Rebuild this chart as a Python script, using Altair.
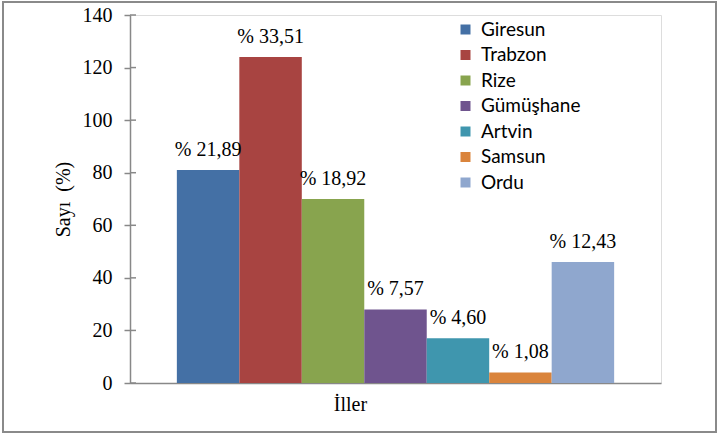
import altair as alt
import pandas as pd

cities = ["Giresun", "Trabzon", "Rize", "Gümüşhane", "Artvin", "Samsun", "Ordu"]
values = [81, 124, 70, 28, 17, 4, 46]
labels = ["% 21,89", "% 33,51", "% 18,92", "% 7,57", "% 4,60", "% 1,08", "% 12,43"]
colors = ["#4470A5", "#A84441", "#88A44E", "#6F548E", "#3F96AE", "#DA843C", "#8FA7CE"]
y_ticks = [0, 20, 40, 60, 80, 100, 120, 140]

SERIF = "Liberation Serif"

df = pd.DataFrame({"city": cities, "value": values, "label": labels})
ticks_df = pd.DataFrame({"t": y_ticks})

x = alt.X("city:N", sort=cities,
          scale=alt.Scale(paddingInner=0, paddingOuter=0.75),
          axis=alt.Axis(title="İller", labels=False, ticks=False,
                        titleX=220, titleY=27, titleAlign="center",
                        titleBaseline="alphabetic"))
y = alt.Y("value:Q", scale=alt.Scale(domain=[0, 140]),
          axis=alt.Axis(title="Sayı\u00a0 (%)", values=y_ticks, grid=False,
                        tickSize=6, labelPadding=12, titlePadding=9))

bars = alt.Chart(df).mark_bar().encode(
    x=x, y=y,
    color=alt.Color("city:N", sort=cities,
                    scale=alt.Scale(domain=cities, range=colors),
                    legend=alt.Legend(title=None, orient="none", legendX=326, legendY=5,
                                      symbolType="square", symbolSize=100,
                                      symbolStrokeWidth=0, symbolOpacity=1,
                                      rowPadding=5.5, labelOffset=6)),
)

text = alt.Chart(df).mark_text(baseline="alphabetic", dy=-14).encode(
    x=alt.X("city:N", sort=cities), y="value:Q", text="label:N")

inner_ticks = alt.Chart(ticks_df).mark_rule(color="#888888", strokeWidth=1.5).encode(
    y=alt.Y("t:Q"), x=alt.value(0), x2=alt.value(6))

border = alt.Chart(df).mark_rect(fill=None, stroke="#8a8a8a", strokeWidth=1.5).encode(
    x=alt.value(-127), x2=alt.value(586), y=alt.value(-13), y2=alt.value(417))

chart = alt.layer(bars, text, inner_ticks, border).properties(
    width=531, height=368,
    autosize=alt.AutoSizeParams(type="none"),
    padding={"left": 130, "top": 15, "right": 60, "bottom": 53},
).configure_view(stroke=None).configure(background="white").configure_axis(
    labelFont=SERIF, labelFontSize=20, labelColor="#000000",
    titleFont=SERIF, titleFontSize=20, titleFontWeight="normal", titleColor="#000000",
    domainColor="#888888", domainWidth=1.5, tickColor="#888888", tickWidth=1.5,
).configure_text(font=SERIF, fontSize=20, color="#000000").configure_legend(
    labelFont="Lato", labelFontSize=19, labelColor="#000000",
)

chart.save("out.html", embed_options={"renderer": "svg", "actions": False})
